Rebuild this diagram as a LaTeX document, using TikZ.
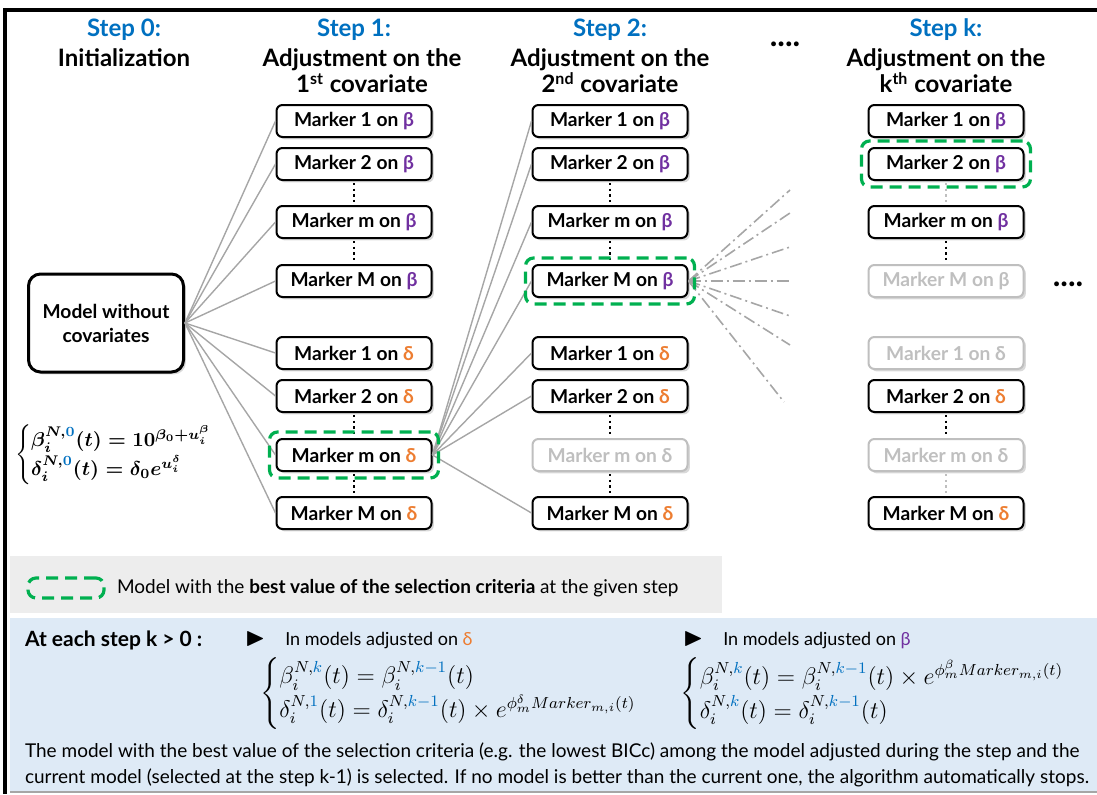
\documentclass[tikz,border=0pt]{standalone}
\usepackage{amsmath,amssymb,bm}
\usepackage[no-math]{fontspec}
\setmainfont{Lato}
\usetikzlibrary{shadows,fit}
\definecolor{stepblue}{HTML}{0070C0}
\definecolor{betacol}{HTML}{7030A0}
\definecolor{deltacol}{HTML}{ED7D31}
\definecolor{bestgreen}{HTML}{00B050}
\definecolor{linkgray}{HTML}{A6A6A6}
\definecolor{offgray}{HTML}{BFBFBF}
\definecolor{legendfill}{HTML}{EDEDED}
\definecolor{notefill}{HTML}{DEEAF6}
\newcommand{\onb}{on \textcolor{betacol}{β}}
\newcommand{\ond}{on \textcolor{deltacol}{δ}}
\newcommand{\kk}[1]{\textcolor{stepblue}{#1}}
\newcommand{\bullettri}{{\fontsize{13}{13}\selectfont$\blacktriangleright$}}
\newcommand{\initeq}{\mbox{\boldmath$\begin{cases}\bm{\beta_i^{N,\kk{0}}(t)=10^{\beta_0+u_i^\beta}}\\ \bm{\delta_i^{N,\kk{0}}(t)=\delta_0e^{u_i^\delta}}\end{cases}$}}
\newcommand{\deltaeq}{$\begin{cases}\beta_i^{N,\kk{k}}(t)=\beta_i^{N,\kk{k-1}}(t)\\ \delta_i^{N,\kk{1}}(t)=\delta_i^{N,\kk{k-1}}(t)\times e^{\phi_m^\delta Marker_{m,i}(t)}\end{cases}$}
\newcommand{\betaeq}{$\begin{cases}\beta_i^{N,\kk{k}}(t)=\beta_i^{N,\kk{k-1}}(t)\times e^{\phi_m^\beta Marker_{m,i}(t)}\\ \delta_i^{N,\kk{k}}(t)=\delta_i^{N,\kk{k-1}}(t)\end{cases}$}
\begin{document}
\begin{tikzpicture}[x=0.5pt,y=-0.5pt,
    marker/.style={draw, line width=1pt, rounded corners=3pt, fill=white, minimum width=77.5pt, minimum height=16pt, inner sep=0pt, font=\bfseries\fontsize{9.6}{10}\selectfont, drop shadow={shadow xshift=1.2pt, shadow yshift=-1.2pt, opacity=0.3}},
    markeroff/.style={marker, draw=offgray, text=offgray},
    best/.style={draw=bestgreen, line width=1.6pt, dash pattern=on 6pt off 3.5pt, rounded corners=4pt, inner sep=3pt},
    link/.style={draw=linkgray, line width=0.7pt},
    trial/.style={draw=linkgray, line width=0.8pt, dash pattern=on 6pt off 2pt on 1pt off 2pt},
    vdots/.style={line width=1.4pt, dash pattern=on 1.2pt off 1.6pt, shorten >=1pt, shorten <=1pt},
    head/.style={font=\bfseries\fontsize{12}{13}\selectfont, align=center},
    stephead/.style={head, text=stepblue},
    moredots/.style={font=\bfseries\fontsize{16}{16}\selectfont}]
    \useasboundingbox (0,0) rectangle (1097,794);
    \fill[legendfill] (10,556) rectangle (722,613);
    \fill[notefill] (10,618) rectangle (1097,792);
    \draw[linkgray, line width=0.6pt] (10,792) -- (1097,792);
    \draw[line width=1.6pt] (1097,10) -- (5,10) -- (5,794);

    \node[stephead] (h0) at (124,30) {Step 0:};
    \node[head] (t0) at (124,58) {Initialization};
    \node[stephead] (h1) at (354,30) {Step 1:};
    \node[head] (t1) at (362,71) {Adjustment on the\\1\textsuperscript{st} covariate};
    \node[stephead] (h2) at (610,30) {Step 2:};
    \node[head] (t2) at (610,71) {Adjustment on the\\2\textsuperscript{nd} covariate};
    \node[moredots] (hdots) at (785,44) {....};
    \node[stephead] (hk) at (946,30) {Step k:};
    \node[head] (tk) at (946,71) {Adjustment on the\\k\textsuperscript{th} covariate};

    \node[draw, line width=1.5pt, rounded corners=6pt, fill=white, minimum width=77.5pt, minimum height=49pt, align=center, font=\bfseries\fontsize{9.6}{12}\selectfont, drop shadow={shadow xshift=1.2pt, shadow yshift=-1.2pt, opacity=0.3}] (model) at (106,323) {Model without\\covariates};
    \node[font=\fontsize{10}{12}\selectfont] (init) at (124,455) {\initeq};

    \node[marker] (s1b1) at (354,121) {Marker 1 \onb};
    \node[marker] (s1b2) at (354,164) {Marker 2 \onb};
    \node[marker] (s1bm) at (354,222) {Marker m \onb};
    \node[marker] (s1bM) at (354,281) {Marker M \onb};
    \node[marker] (s1d1) at (354,353) {Marker 1 \ond};
    \node[marker] (s1d2) at (354,396) {Marker 2 \ond};
    \node[marker] (s1dm) at (354,455) {Marker m \ond};
    \node[marker] (s1dM) at (354,513) {Marker M \ond};

    \node[marker] (s2b1) at (610,121) {Marker 1 \onb};
    \node[marker] (s2b2) at (610,164) {Marker 2 \onb};
    \node[marker] (s2bm) at (610,222) {Marker m \onb};
    \node[marker] (s2bM) at (610,281) {Marker M \onb};
    \node[marker] (s2d1) at (610,353) {Marker 1 \ond};
    \node[marker] (s2d2) at (610,396) {Marker 2 \ond};
    \node[markeroff] (s2dm) at (610,455) {Marker m on δ};
    \node[marker] (s2dM) at (610,513) {Marker M \ond};

    \node[marker] (skb1) at (946,121) {Marker 1 \onb};
    \node[marker] (skb2) at (946,164) {Marker 2 \onb};
    \node[marker] (skbm) at (946,222) {Marker m \onb};
    \node[markeroff] (skbM) at (946,281) {Marker M on β};
    \node[markeroff] (skd1) at (946,353) {Marker 1 on δ};
    \node[marker] (skd2) at (946,396) {Marker 2 \ond};
    \node[markeroff] (skdm) at (946,455) {Marker m on δ};
    \node[marker] (skdM) at (946,513) {Marker M \ond};
    \node[moredots] (rdots) at (1068,284) {....};

    \draw[link] (model.east) -- (s1b1.west);
    \draw[link] (model.east) -- (s1b2.west);
    \draw[link] (model.east) -- (s1bm.west);
    \draw[link] (model.east) -- (s1bM.west);
    \draw[link] (model.east) -- (s1d1.west);
    \draw[link] (model.east) -- (s1d2.west);
    \draw[link] (model.east) -- (s1dm.west);
    \draw[link] (model.east) -- (s1dM.west);

    \draw[link] (s1dm.east) -- (s2b1.west);
    \draw[link] (s1dm.east) -- (s2b2.west);
    \draw[link] (s1dm.east) -- (s2bm.west);
    \draw[link] (s1dm.east) -- (s2bM.west);
    \draw[link] (s1dm.east) -- (s2d1.west);
    \draw[link] (s1dm.east) -- (s2d2.west);
    \draw[link] (s1dm.east) -- (s2dM.west);

    \coordinate (e1) at (790,190);
    \coordinate (e2) at (790,213);
    \coordinate (e3) at (790,247);
    \coordinate (e4) at (790,281);
    \coordinate (e5) at (790,316);
    \coordinate (e6) at (790,345);
    \coordinate (e7) at (784,402);
    \draw[trial] (s2bM.east) -- (e1);
    \draw[trial] (s2bM.east) -- (e2);
    \draw[trial] (s2bM.east) -- (e3);
    \draw[trial] (s2bM.east) -- (e4);
    \draw[trial] (s2bM.east) -- (e5);
    \draw[trial] (s2bM.east) -- (e6);
    \draw[trial] (s2bM.east) -- (e7);

    \draw[vdots] (s1b2.south) -- (s1bm.north);
    \draw[vdots] (s1bm.south) -- (s1bM.north);
    \draw[vdots] (s1d2.south) -- (s1dm.north);
    \draw[vdots] (s1dm.south) -- (s1dM.north);
    \draw[vdots] (s2b2.south) -- (s2bm.north);
    \draw[vdots] (s2bm.south) -- (s2bM.north);
    \draw[vdots] (s2d2.south) -- (s2dm.north);
    \draw[vdots] (s2dm.south) -- (s2dM.north);
    \draw[vdots, offgray] (skb2.south) -- (skbm.north);
    \draw[vdots] (skbm.south) -- (skbM.north);
    \draw[vdots] (skd2.south) -- (skdm.north);
    \draw[vdots, offgray] (skdm.south) -- (skdM.north);

    \node[best, fit=(s1dm)] (best1) {};
    \node[best, fit=(s2bM)] (best2) {};
    \node[best, fit=(skb2)] (bestk) {};

    \node[best, minimum width=38pt, minimum height=10pt, inner sep=0pt] (key) at (66,588) {};
    \node[anchor=west, font=\fontsize{9.5}{11}\selectfont] (keytext) at (110,588) {Model with the \textbf{best value of the selection criteria} at the given step};

    \node[anchor=west, font=\bfseries\fontsize{10.5}{11}\selectfont] (atk) at (18,640) {At each step k > 0 :};
    \node[anchor=west, font=\fontsize{9}{11}\selectfont] (ond) at (238,640) {\bullettri\hspace{10pt}In models adjusted on \textcolor{deltacol}{δ}};
    \node[anchor=west, font=\fontsize{9}{11}\selectfont] (onb) at (676,640) {\bullettri\hspace{10pt}In models adjusted on \textcolor{betacol}{β}};
    \node[font=\fontsize{12}{14}\selectfont] (eqd) at (461,694) {\deltaeq};
    \node[font=\fontsize{12}{14}\selectfont] (eqb) at (885,694) {\betaeq};
    \node[anchor=west, font=\fontsize{9.5}{11}\selectfont] (note1) at (18,752) {The model with the best value of the selection criteria (e.g. the lowest BICc) among the model adjusted during the step and the};
    \node[anchor=west, font=\fontsize{9.5}{11}\selectfont] (note2) at (18,778) {current model (selected at the step k-1) is selected. If no model is better than the current one, the algorithm automatically stops.};
  \end{tikzpicture}
\end{document}
